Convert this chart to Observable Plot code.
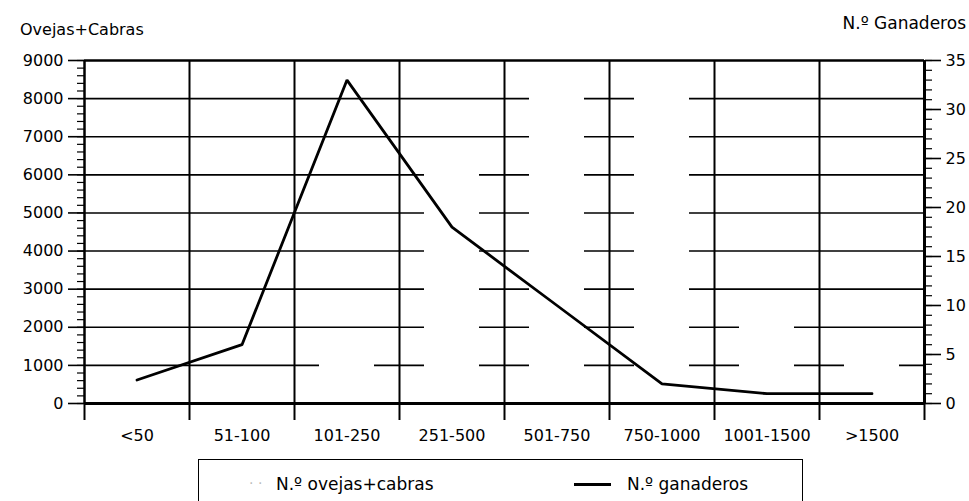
<!DOCTYPE html>
<html>
<head>
<meta charset="utf-8">
<script src="https://cdn.jsdelivr.net/npm/d3@7"></script>
<script src="https://cdn.jsdelivr.net/npm/@observablehq/plot@0.6"></script>
<style>
  html, body { margin: 0; padding: 0; background: #fff; }
  #wrap { position: relative; width: 969px; height: 501px; overflow: hidden; font-family: "DejaVu Sans", sans-serif; color: #000; }
  #chart { position: absolute; left: 0; top: 0; }
  .lbl { position: absolute; line-height: 1; white-space: nowrap; }
  #legend { position: absolute; left: 198px; top: 459px; width: 605px; height: 80px; border: 1.5px solid #000; box-sizing: border-box; }
</style>
</head>
<body>
<div id="wrap">
  <div id="chart"></div>
  <div class="lbl" style="left:20px; top:22px; font-size:16px;">Ovejas+Cabras</div>
  <div class="lbl" style="right:3px; top:15px; font-size:17px;">N.º Ganaderos</div>
  <div id="legend">
    <div class="lbl" style="left:50px; top:16px; font-size:14px; color:#bbb;">· ·</div>
    <div class="lbl" style="left:77px; top:16px; font-size:17px;">N.º ovejas+cabras</div>
    <div style="position:absolute; left:375px; top:23px; width:37px; height:2.5px; background:#000;"></div>
    <div class="lbl" style="left:428px; top:16px; font-size:17px;">N.º ganaderos</div>
  </div>
</div>
<script>
const categories = ["<50", "51-100", "101-250", "251-500", "501-750", "750-1000", "1001-1500", ">1500"];
const ovejasCabras = [150, 600, 1500, 6200, 8050, 8300, 2300, 1300];
const ganaderos = [2.4, 6, 33, 18, 10, 2, 1, 1];
const leftTicks = [0, 1000, 2000, 3000, 4000, 5000, 6000, 7000, 8000, 9000];
const rightTicks = [0, 5, 10, 15, 20, 25, 30, 35];

const leftMax = 9000, rightMax = 35;
const k = leftMax / rightMax;
const idx = categories.map((c, i) => i);
const n = categories.length;

const chart = Plot.plot({
  width: 969,
  height: 450,
  marginLeft: 84,
  marginRight: 45,
  marginTop: 60,
  marginBottom: 47,
  style: { fontFamily: "DejaVu Sans, sans-serif", fontSize: "16px", color: "#000", background: "transparent", overflow: "visible" },
  x: { domain: [0, n], axis: null },
  y: { domain: [0, leftMax], axis: null },
  marks: [
    Plot.gridY({ ticks: leftTicks.slice(1, -1), stroke: "#000", strokeOpacity: 1, strokeWidth: 1.6 }),
    Plot.ruleX(d3.range(1, n), { stroke: "#000", strokeWidth: 2 }),
    Plot.rectY(idx, { x1: i => i, x2: i => i + 1, y1: 0, y2: i => ovejasCabras[i], insetLeft: 25, insetRight: 25, fill: "#fff" }),
    Plot.ruleY([leftMax], { stroke: "#000", strokeWidth: 2.5 }),
    Plot.ruleY([0], { stroke: "#000", strokeWidth: 3 }),
    Plot.ruleX([0], { stroke: "#000", strokeWidth: 2.5 }),
    Plot.ruleX([n], { stroke: "#000", strokeWidth: 3 }),
    Plot.axisX({ ticks: d3.range(0, n + 1), tickSize: 17, tickFormat: () => "", strokeWidth: 2 }),
    Plot.axisX({ ticks: idx.map(i => i + 0.5), tickSize: 0, tickPadding: 26, tickFormat: d => categories[Math.floor(d)], fontSize: 16 }),
    Plot.axisY({ anchor: "left", ticks: d3.range(0, leftMax + 1, 200), tickSize: 7, tickFormat: () => "", strokeWidth: 1.2 }),
    Plot.axisY({ anchor: "left", ticks: leftTicks, tickSize: 16, tickPadding: 5, tickFormat: d => String(d), strokeWidth: 1.6, fontSize: 16 }),
    Plot.axisY({ anchor: "right", ticks: d3.range(0, rightMax + 1).map(v => v * k), tickSize: 7, tickFormat: () => "", strokeWidth: 1.2 }),
    Plot.axisY({ anchor: "right", ticks: rightTicks.map(v => v * k), tickSize: 16, tickPadding: 5, tickFormat: d => String(Math.round(d / k)), strokeWidth: 1.6, fontSize: 16 }),
    Plot.line(idx, { x: i => i + 0.5, y: i => ganaderos[i] * k, stroke: "#000", strokeWidth: 2.8, strokeLinejoin: "miter" })
  ]
});
document.getElementById("chart").appendChild(chart);
</script>
</body>
</html>
